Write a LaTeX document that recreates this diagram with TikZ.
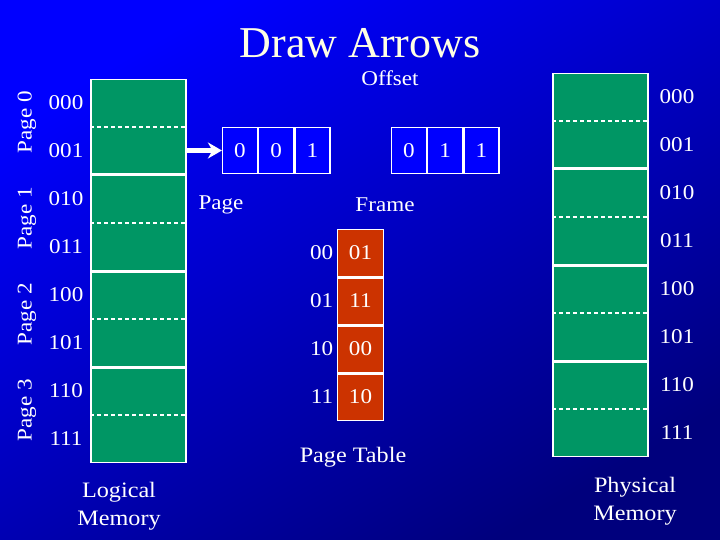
\documentclass[tikz,border=0pt]{standalone}
\usepackage{fontspec}
\setmainfont{Liberation Serif}[FakeStretch=1.1]
\newfontfamily\titlefont{Liberation Serif}
\usetikzlibrary{arrows.meta, positioning}

\definecolor{slideblue}{RGB}{0,0,255}
\definecolor{slidenavy}{RGB}{0,0,125}
\definecolor{memgreen}{RGB}{0,150,100}
\definecolor{tablered}{RGB}{204,51,0}
\definecolor{titlecream}{RGB}{255,255,228}

\begin{document}
\begin{tikzpicture}[
    x=1pt, y=-1pt, >=Stealth,
    every node/.style={text=white, font=\fontsize{21}{25}\selectfont},
    memblock/.style={draw=white, line width=1.5pt, fill=memgreen,
                     minimum width=95pt, minimum height=94.5pt, inner sep=0pt},
    halfline/.style={white, line width=1.2pt, dash pattern=on 4pt off 3pt},
    bitcell/.style={draw=white, line width=1.2pt, fill=slideblue,
                    minimum width=35pt, minimum height=46pt, inner sep=0pt},
    ptcell/.style={draw=white, line width=1.5pt, fill=tablered,
                   minimum width=46pt, minimum height=46.5pt, inner sep=0pt},
    caption/.style={font=\fontsize{22}{28}\selectfont, align=center}
  ]
  \shade[top color=slideblue, bottom color=slidenavy, shading angle=30]
    (0,0) rectangle (720,540);
  \useasboundingbox (0,0) rectangle (720,540);

  \node[font=\titlefont\fontsize{44}{50}\selectfont, text=titlecream]
    (title) at (360,43) {Draw Arrows};

  % logical memory
  \node[memblock] (lp0) at (138.5,127) {};
  \node[memblock, below=0pt of lp0] (lp1) {};
  \node[memblock, below=0pt of lp1] (lp2) {};
  \node[memblock, below=0pt of lp2] (lp3) {};
  \draw[halfline] (lp0.west) -- (lp0.east);
  \draw[halfline] (lp1.west) -- (lp1.east);
  \draw[halfline] (lp2.west) -- (lp2.east);
  \draw[halfline] (lp3.west) -- (lp3.east);

  \node (la0) at (66,103) {000};
  \node (la1) at (66,151) {001};
  \node (la2) at (66,199) {010};
  \node (la3) at (66,247) {011};
  \node (la4) at (66,295) {100};
  \node (la5) at (66,343) {101};
  \node (la6) at (66,391) {110};
  \node (la7) at (66,439) {111};

  \node[rotate=90] (pl0) at (27,122) {Page 0};
  \node[rotate=90] (pl1) at (27,218) {Page 1};
  \node[rotate=90] (pl2) at (27,314) {Page 2};
  \node[rotate=90] (pl3) at (27,410) {Page 3};

  \node[caption] (logmem) at (119,506) {Logical\\Memory};

  % address bits
  \node (offset) at (390,78) {Offset};
  \node[bitcell] (pb0) at (240,150.5) {0};
  \node[bitcell, right=0pt of pb0] (pb1) {0};
  \node[bitcell, right=0pt of pb1] (pb2) {1};
  \node[bitcell] (fb0) at (409,150.5) {0};
  \node[bitcell, right=0pt of fb0] (fb1) {1};
  \node[bitcell, right=0pt of fb1] (fb2) {1};
  \node (pagelbl) at (221,205) {Page};
  \node (framelbl) at (385,205) {Frame};

  \draw[white, line width=4.5pt, -{Stealth[length=14pt, width=16pt]}]
    (lp0.east |- pb0.west) -- (pb0.west);

  % page table
  \node[ptcell] (pt0) at (360.5,253) {01};
  \node[ptcell, below=0pt of pt0] (pt1) {11};
  \node[ptcell, below=0pt of pt1] (pt2) {00};
  \node[ptcell, below=0pt of pt2] (pt3) {10};
  \node[left=0pt of pt0] (pi0) {00};
  \node[left=0pt of pt1] (pi1) {01};
  \node[left=0pt of pt2] (pi2) {10};
  \node[left=0pt of pt3] (pi3) {11};
  \node[caption] (ptname) at (353,457) {Page Table};

  % physical memory
  \node[memblock] (fp0) at (600.5,121) {};
  \node[memblock, below=0pt of fp0] (fp1) {};
  \node[memblock, below=0pt of fp1] (fp2) {};
  \node[memblock, below=0pt of fp2] (fp3) {};
  \draw[halfline] (fp0.west) -- (fp0.east);
  \draw[halfline] (fp1.west) -- (fp1.east);
  \draw[halfline] (fp2.west) -- (fp2.east);
  \draw[halfline] (fp3.west) -- (fp3.east);

  \node (fa0) at (677,97) {000};
  \node (fa1) at (677,145) {001};
  \node (fa2) at (677,193) {010};
  \node (fa3) at (677,241) {011};
  \node (fa4) at (677,289) {100};
  \node (fa5) at (677,337) {101};
  \node (fa6) at (677,385) {110};
  \node (fa7) at (677,433) {111};

  \node[caption] (physmem) at (635,501) {Physical\\Memory};
\end{tikzpicture}
\end{document}
